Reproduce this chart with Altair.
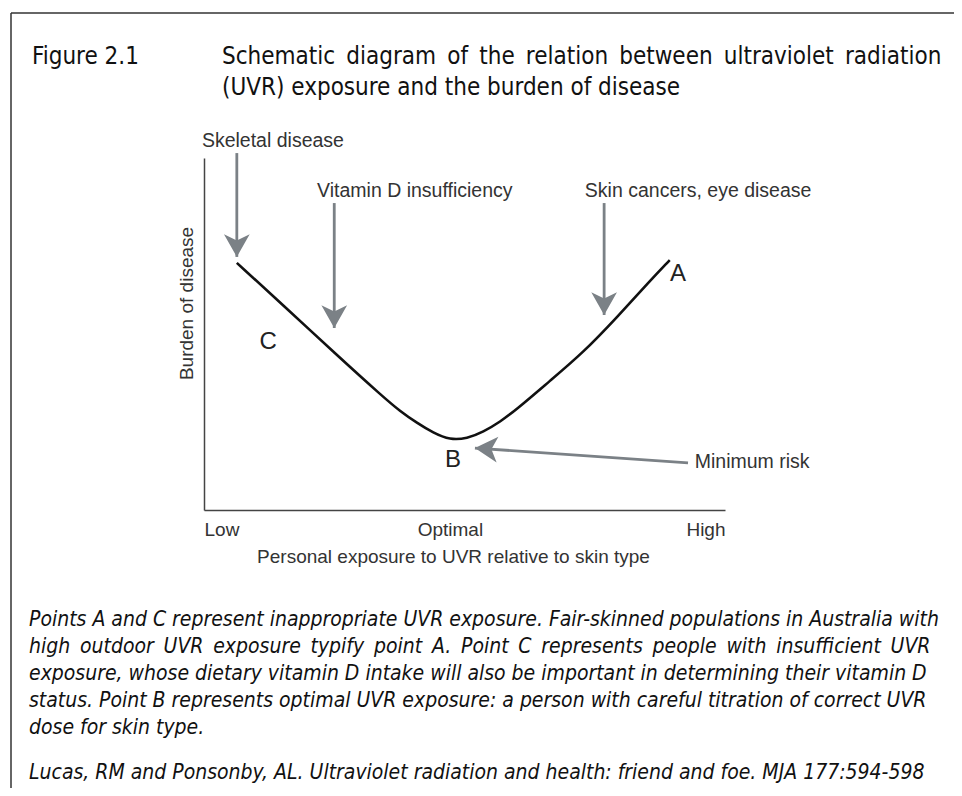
import json
import altair as alt
import pandas as pd

# ---------------- data ----------------
# curve: exposure (0 = low, 10 = high) vs burden of disease (0..10)
curve_x = [0.63, 1.52, 2.55, 3.44, 3.76, 4.09, 4.40, 4.72, 5.05, 5.36, 5.68, 6.01, 6.64, 7.27, 7.93, 8.56, 8.94]
curve_y = [7.02, 5.82, 4.40, 3.21, 2.81, 2.47, 2.19, 1.99, 2.03, 2.22, 2.50, 2.87, 3.67, 4.46, 5.48, 6.51, 7.10]

tick_values = [0, 4.72, 10]
tick_labels = ["Low", "Optimal", "High"]

# arrows (data units): tail -> tip
arrow_x = [0.63, 2.50, 7.68, 9.29]
arrow_y = [10.14, 8.72, 8.72, 1.34]
arrow_tip_x = [0.63, 2.50, 7.68, 5.20]
arrow_tip_y = [7.19, 5.17, 5.54, 1.76]
arrow_angle = [0, 0, 0, 94]

# annotation texts
note_text = ["Skeletal disease", "Vitamin D insufficiency", "Skin cancers, eye disease", "Minimum risk"]
note_x = [-0.04, 2.17, 7.31, 9.42]
note_y = [10.48, 9.06, 9.06, 1.36]

letter_text = ["A", "B", "C"]
letter_x = [9.10, 4.78, 1.23]
letter_y = [6.70, 1.42, 4.77]

figure_label = "Figure 2.1"
title_lines = [
    "Schematic diagram of the relation between ultraviolet radiation",
    "(UVR) exposure and the burden of disease",
]
caption_lines = [
    "Points A and C represent inappropriate UVR exposure. Fair-skinned populations in Australia with",
    "high outdoor UVR exposure typify point A. Point C represents people with insufficient UVR",
    "exposure, whose dietary vitamin D intake  will also be important in determining their vitamin D",
    "status. Point B represents optimal UVR exposure: a person with careful titration of correct UVR",
    "dose for skin type.",
]
source_line = "Lucas, RM and Ponsonby, AL. Ultraviolet radiation and health: friend and foe. MJA 177:594-598"

# ---------------- tables ----------------
curve_df = pd.DataFrame({"x": curve_x, "y": curve_y})
shaft_df = pd.DataFrame({"x": arrow_x, "y": arrow_y, "x2": arrow_tip_x, "y2": arrow_tip_y})
head_df = pd.DataFrame({"x": arrow_tip_x, "y": arrow_tip_y, "angle": arrow_angle})
note_df = pd.DataFrame({"x": note_x, "y": note_y, "t": note_text})
letter_df = pd.DataFrame({"x": letter_x, "y": letter_y, "t": letter_text})
one = pd.DataFrame({"k": [0]})

SANS = "Liberation Sans, Arial, Helvetica, sans-serif"
NARROW = "Liberation Sans Narrow, Arial Narrow, DejaVu Sans Condensed, sans-serif"
ARROW = "#7b8186"
HEAD = "M0,0L-1.05,-1.85L0,-1.35L1.05,-1.85Z"


def widen(line):
    """Imitate the justified setting of the original by widening word gaps."""
    return line.replace(" ", " \u2009")


xs = alt.Scale(domain=[0, 10], nice=False, zero=False)
ys = alt.Scale(domain=[0, 10], nice=False, zero=False)

label_expr = f"{json.dumps(tick_labels)}[indexof({json.dumps(tick_values)}, datum.value)]"

x_axis = alt.Axis(
    values=tick_values, labelExpr=label_expr, labelFlush=True, grid=False, ticks=False,
    labelPadding=10, title="Personal exposure to UVR relative to skin type",
    titlePadding=8, titleX=249)
y_axis = alt.Axis(
    labels=False, ticks=False, grid=False, title="Burden of disease",
    titlePadding=8, titleY=145)

X = alt.X("x:Q", scale=xs, axis=x_axis)
Y = alt.Y("y:Q", scale=ys, axis=y_axis)

curve = alt.Chart(curve_df).mark_line(
    color="#111111", strokeWidth=2.6, interpolate="basis"
).encode(x=X, y=Y)

shafts = alt.Chart(shaft_df).mark_rule(color=ARROW, strokeWidth=2.8).encode(
    x=X, y=Y, x2="x2:Q", y2="y2:Q")

heads = alt.Chart(head_df).mark_point(
    shape=HEAD, filled=True, size=600, color=ARROW, opacity=1
).encode(x=X, y=Y, angle=alt.Angle("angle:Q", scale=None))

notes = alt.Chart(note_df).mark_text(
    align="left", baseline="middle", font=SANS, fontSize=19.5, color="#333333"
).encode(x=X, y=Y, text="t:N")

letters = alt.Chart(letter_df).mark_text(
    align="center", baseline="middle", font=SANS, fontSize=24, color="#222222"
).encode(x=X, y=Y, text="t:N")

# frame (top and left edges of the figure box)
frame_left = alt.Chart(one).mark_rule(color="#333333", strokeWidth=1.5).encode(
    x=alt.value(-193), y=alt.value(-145), y2=alt.value(700))
frame_top = alt.Chart(one).mark_rule(color="#333333", strokeWidth=1.5).encode(
    x=alt.value(-193), x2=alt.value(800), y=alt.value(-145))

fig_label = alt.Chart(one).mark_text(
    align="left", baseline="middle", font=NARROW, fontSize=24, color="#111111"
).encode(x=alt.value(-172), y=alt.value(-101), text=alt.value(figure_label))

title_display = [widen(title_lines[0]), title_lines[1]]
title = alt.Chart(one).mark_text(
    align="left", baseline="middle", font=NARROW, fontSize=24, color="#111111", lineHeight=31
).encode(x=alt.value(18), y=alt.value(-101), text=alt.value(title_display))

caption_display = [caption_lines[0], widen(caption_lines[1])] + caption_lines[2:]
caption = alt.Chart(one).mark_text(
    align="left", baseline="middle", font=NARROW, fontSize=21, fontStyle="italic",
    color="#111111", lineHeight=27
).encode(x=alt.value(-175), y=alt.value(462), text=alt.value(caption_display))

source = alt.Chart(one).mark_text(
    align="left", baseline="middle", font=NARROW, fontSize=21, fontStyle="italic", color="#111111"
).encode(x=alt.value(-175), y=alt.value(615), text=alt.value(source_line))

chart = alt.layer(
    curve, frame_left, frame_top, fig_label, title, caption, source,
    shafts, heads, notes, letters,
).properties(
    width=521, height=352,
    autosize=alt.AutoSizeParams(type="none"),
    padding={"left": 196, "top": 150, "right": 229, "bottom": 278},
).configure_view(strokeWidth=0).configure_axis(
    domainColor="#444444", domainWidth=1.5,
    labelFont=SANS, labelFontSize=19, labelColor="#333333",
    titleFont=SANS, titleFontSize=19, titleFontWeight="normal", titleColor="#333333",
)

chart.save("out.html", embed_options={"renderer": "svg", "actions": False})
